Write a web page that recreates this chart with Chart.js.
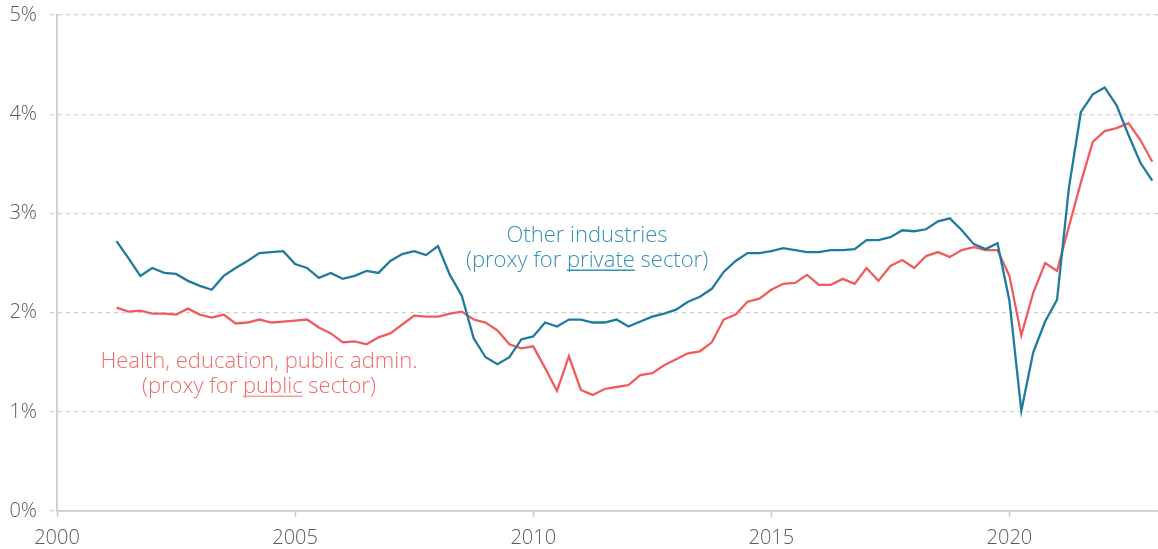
<!DOCTYPE html>
<html>
<head>
<meta charset="utf-8">
<script src="https://cdn.jsdelivr.net/npm/chart.js@4"></script>
<style>
  html, body { margin: 0; padding: 0; background: #ffffff; }
  #wrap { width: 1158px; height: 549px; }
</style>
</head>
<body>
<div id="wrap"><canvas id="c" width="1158" height="549"></canvas></div>
<script>
// Quarterly periods
const quarters = [
  "2001Q2","2001Q3","2001Q4",
  "2002Q1","2002Q2","2002Q3","2002Q4",
  "2003Q1","2003Q2","2003Q3","2003Q4",
  "2004Q1","2004Q2","2004Q3","2004Q4",
  "2005Q1","2005Q2","2005Q3","2005Q4",
  "2006Q1","2006Q2","2006Q3","2006Q4",
  "2007Q1","2007Q2","2007Q3","2007Q4",
  "2008Q1","2008Q2","2008Q3","2008Q4",
  "2009Q1","2009Q2","2009Q3","2009Q4",
  "2010Q1","2010Q2","2010Q3","2010Q4",
  "2011Q1","2011Q2","2011Q3","2011Q4",
  "2012Q1","2012Q2","2012Q3","2012Q4",
  "2013Q1","2013Q2","2013Q3","2013Q4",
  "2014Q1","2014Q2","2014Q3","2014Q4",
  "2015Q1","2015Q2","2015Q3","2015Q4",
  "2016Q1","2016Q2","2016Q3","2016Q4",
  "2017Q1","2017Q2","2017Q3","2017Q4",
  "2018Q1","2018Q2","2018Q3","2018Q4",
  "2019Q1","2019Q2","2019Q3","2019Q4",
  "2020Q1","2020Q2","2020Q3","2020Q4",
  "2021Q1","2021Q2","2021Q3","2021Q4",
  "2022Q1","2022Q2","2022Q3","2022Q4",
  "2023Q1"
];

// Other industries (proxy for private sector), %
const otherIndustries = [
  2.72, 2.55, 2.37,
  2.45, 2.40, 2.39, 2.32,
  2.27, 2.23, 2.37, 2.45,
  2.52, 2.60, 2.61, 2.62,
  2.49, 2.45, 2.35, 2.40,
  2.34, 2.37, 2.42, 2.40,
  2.52, 2.59, 2.62, 2.58,
  2.67, 2.38, 2.17, 1.74,
  1.55, 1.48, 1.55, 1.73,
  1.76, 1.90, 1.86, 1.93,
  1.93, 1.90, 1.90, 1.93,
  1.86, 1.91, 1.96, 1.99,
  2.03, 2.11, 2.16, 2.24,
  2.41, 2.52, 2.60, 2.60,
  2.62, 2.65, 2.63, 2.61,
  2.61, 2.63, 2.63, 2.64,
  2.73, 2.73, 2.76, 2.83,
  2.82, 2.84, 2.92, 2.95,
  2.83, 2.69, 2.64, 2.70,
  2.12, 1.01, 1.60, 1.91,
  2.13, 3.26, 4.02, 4.20,
  4.27, 4.09, 3.79, 3.51,
  3.33
];

// Health, education, public admin. (proxy for public sector), %
const healthEducationPublic = [
  2.05, 2.01, 2.02,
  1.99, 1.99, 1.98, 2.04,
  1.98, 1.95, 1.98, 1.89,
  1.90, 1.93, 1.90, 1.91,
  1.92, 1.93, 1.85, 1.79,
  1.70, 1.71, 1.68, 1.75,
  1.79, 1.88, 1.97, 1.96,
  1.96, 1.99, 2.01, 1.93,
  1.90, 1.82, 1.68, 1.64,
  1.66, 1.44, 1.21, 1.56,
  1.22, 1.17, 1.23, 1.25,
  1.27, 1.37, 1.39, 1.47,
  1.53, 1.59, 1.61, 1.70,
  1.93, 1.98, 2.11, 2.14,
  2.23, 2.29, 2.30, 2.38,
  2.28, 2.28, 2.34, 2.29,
  2.45, 2.32, 2.47, 2.53,
  2.45, 2.57, 2.61, 2.56,
  2.63, 2.66, 2.63, 2.63,
  2.37, 1.77, 2.20, 2.50,
  2.42, 2.87, 3.31, 3.72,
  3.83, 3.86, 3.91, 3.74,
  3.52
];

const xTickYears = [2000, 2005, 2010, 2015, 2020];
const yTickValues = [0, 1, 2, 3, 4, 5];

const BLUE = '#1f7b9e';
const BLUE_TEXT = '#3592b2';
const RED = '#f05c5e';
const RED_TEXT = '#f26b6c';
const GRID = '#cfcfcf';
const AXIS = '#cccccc';
const TICK_TEXT = '#5a5a5a';
const FONT = '"Open Sans", Lato, sans-serif';

function quarterToYear(q) {
  const y = parseInt(q.slice(0, 4), 10);
  const n = parseInt(q.slice(5), 10);
  return y + (n - 1) / 4;
}
const xs = quarters.map(quarterToYear);
const toPoints = (vals) => vals.map((v, i) => ({ x: xs[i], y: v }));

const annotationPlugin = {
  id: 'labels',
  afterDatasetsDraw(chart) {
    const { ctx, scales: { x, y } } = chart;
    const drawBlock = (cx, lines, color, ulColor) => {
      ctx.save();
      ctx.font = '300 22px ' + FONT;
      ctx.fillStyle = color;
      ctx.textBaseline = 'alphabetic';
      lines.forEach(line => {
        const px = x.getPixelForValue(cx);
        const py = y.getPixelForValue(line.v);
        const full = line.parts.map(p => p.t).join('');
        const w = ctx.measureText(full).width;
        let sx = px - w / 2;
        line.parts.forEach(p => {
          ctx.fillStyle = color;
          ctx.textAlign = 'left';
          ctx.fillText(p.t, sx, py);
          const pw = ctx.measureText(p.t).width;
          if (p.u) {
            ctx.strokeStyle = ulColor;
            ctx.lineWidth = 1.3;
            ctx.beginPath();
            ctx.moveTo(sx, py + 3);
            ctx.lineTo(sx + pw, py + 3);
            ctx.stroke();
          }
          sx += pw;
        });
      });
      ctx.restore();
    };
    drawBlock(2011.13, [
      { v: 2.709, parts: [{ t: 'Other industries' }] },
      { v: 2.457, parts: [{ t: '(proxy for ' }, { t: 'private', u: true }, { t: ' sector)' }] }
    ], BLUE_TEXT, BLUE_TEXT);
    drawBlock(2004.24, [
      { v: 1.439, parts: [{ t: 'Health, education, public admin.' }] },
      { v: 1.187, parts: [{ t: '(proxy for ' }, { t: 'public', u: true }, { t: ' sector)' }] }
    ], RED_TEXT, '#f4a0a0');
  }
};

new Chart(document.getElementById('c'), {
  type: 'line',
  data: {
    datasets: [
      {
        label: 'Other industries (proxy for private sector)',
        data: toPoints(otherIndustries),
        borderColor: BLUE,
        borderWidth: 2.3,
        pointRadius: 0,
        tension: 0,
        fill: false
      },
      {
        label: 'Health, education, public admin. (proxy for public sector)',
        data: toPoints(healthEducationPublic),
        borderColor: RED,
        borderWidth: 2.3,
        pointRadius: 0,
        tension: 0,
        fill: false
      }
    ]
  },
  options: {
    responsive: false,
    animation: false,
    events: [],
    layout: { padding: { top: 15, right: 0, bottom: 0, left: 0 } },
    plugins: {
      legend: { display: false },
      tooltip: { enabled: false }
    },
    scales: {
      x: {
        type: 'linear',
        min: 2000,
        max: 2023.12,
        afterBuildTicks: (scale) => { scale.ticks = xTickYears.map(v => ({ value: v })); },
        afterFit: (scale) => { scale.height = 38; scale.paddingLeft = 0; scale.paddingRight = 0; },
        ticks: {
          callback: (v) => String(v),
          font: { family: FONT, size: 20, weight: '300' },
          color: TICK_TEXT,
          padding: 9,
          maxRotation: 0,
          autoSkip: false
        },
        grid: {
          drawOnChartArea: false,
          drawTicks: true,
          tickLength: 6,
          tickColor: AXIS,
          tickWidth: 1.5
        },
        border: { display: true, color: AXIS, width: 1.8 }
      },
      y: {
        min: 0,
        max: 5,
        afterBuildTicks: (scale) => { scale.ticks = yTickValues.map(v => ({ value: v })); },
        afterFit: (scale) => { scale.width = 57; scale.paddingTop = 0; scale.paddingBottom = 0; },
        ticks: {
          callback: (v) => v + '%',
          font: { family: FONT, size: 20, weight: '300' },
          color: TICK_TEXT,
          padding: 13
        },
        grid: {
          color: GRID,
          lineWidth: 1.3,
          tickLength: 7,
          tickColor: GRID,
          tickWidth: 1.3,
          tickBorderDash: [4, 4]
        },
        border: { display: true, color: AXIS, width: 1.8, dash: [4, 4] }
      }
    }
  },
  plugins: [annotationPlugin]
});
</script>
</body>
</html>
